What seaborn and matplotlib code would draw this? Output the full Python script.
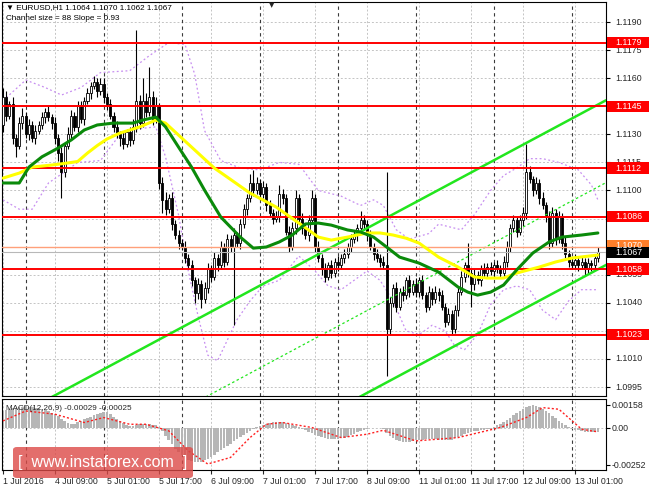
import numpy as np
import matplotlib
matplotlib.use("Agg")
import matplotlib.pyplot as plt
import seaborn as sns
from matplotlib.patches import Rectangle, FancyBboxPatch

sns.set_style("white")
plt.rcParams['font.family'] = ['Liberation Sans', 'DejaVu Sans']

# ---------------- data (prices in pips above 1.1000) ----------------
BASE = 1.1000
open0 = 135
closes = [150,140,146,128,124,136,140,130,135,128,132,135,139,142,139,136,
          128,120,110,124,130,140,134,145,138,148,152,156,158,153,157,150,
          146,140,134,130,128,125,131,127,134,148,136,148,142,150,138,145,
          104,95,90,96,82,76,72,70,64,60,52,45,50,42,48,58,
          54,64,60,70,62,74,70,76,72,82,90,96,104,100,104,98,
          102,92,88,85,86,98,96,78,70,80,96,85,80,76,84,96,
          70,64,58,54,60,56,62,60,64,66,70,74,76,80,84,82,
          76,70,66,64,62,60,26,40,48,38,46,44,52,46,50,46,
          52,44,38,46,42,46,44,38,30,34,26,36,46,54,60,56,
          50,55,52,58,56,59,57,60,58,56,62,70,80,84,78,84,
          88,110,106,100,104,96,92,86,72,88,74,86,72,66,62,60,
          63,60,62,58,61,60,64,67]
wick_up = [5,3,2,4,2,3,4,2,3,2,3,2,3,2,3,2,
           3,2,3,2,4,3,2,3,3,2,3,2,3,2,3,3,
           2,3,2,3,2,3,2,3,4,38,3,12,4,16,3,5,
           2,3,4,2,3,2,3,2,3,2,3,2,3,2,3,3,
           2,3,2,3,2,3,2,4,2,3,3,2,5,7,3,2,
           3,2,3,2,3,5,3,2,3,3,4,2,3,2,3,4,
           2,3,2,3,2,3,2,3,2,3,2,3,3,2,5,3,
           2,3,2,3,2,3,50,3,2,3,2,3,2,3,2,3,
           2,3,2,3,2,3,2,3,2,3,2,3,3,3,2,12,
           2,3,2,2,3,2,3,2,3,2,3,3,2,3,2,3,
           3,15,3,2,3,2,3,2,3,3,2,3,2,3,2,2,
           3,2,3,2,3,2,2,3]
wick_dn = [4,3,2,3,6,2,3,2,3,2,3,2,2,3,2,3,
           3,4,14,3,2,3,2,3,2,3,2,3,2,3,2,3,
           3,2,3,2,4,3,2,3,2,3,3,2,3,2,3,2,
           3,7,3,2,3,2,3,2,3,2,3,5,3,5,2,3,
           3,2,3,2,3,2,3,42,2,3,2,3,2,3,2,3,
           2,3,2,3,2,3,3,2,3,2,3,2,3,2,3,2,
           3,2,3,3,2,3,2,3,2,3,2,3,2,3,2,3,
           3,2,3,2,3,2,25,3,2,3,2,3,2,3,2,3,
           3,2,3,2,3,2,3,2,3,2,3,2,3,2,3,2,
           12,3,2,3,2,3,2,3,2,3,2,3,3,2,3,2,
           3,3,2,3,2,3,2,3,3,2,3,2,3,2,3,2,
           2,3,2,3,2,3,2,2]

green_t = [0,5,8,12,17,21,25,29,34,40,43,47,50,54,58,62,67,73,77,81,85,89,93,97,101,106,110,114,118,122,128,134,140,143,146,150,154,158,163,168,172,178,183]
green_p = [104,104,112.5,118,122.7,127,132.3,135,136,136,137.6,139.2,134,123.2,112.5,100.2,85.8,75.1,69.2,69.8,72.5,76.2,82.1,82.6,81.5,78.9,77.8,75.1,69.8,64.4,61.2,56.4,48.4,45.7,44.1,45.7,49.5,57.5,66.6,72.5,75.1,76.2,77.3]
yellow_t = [0,5,9,15,20,23,26,29,32,36,42,47,50,54,58,65,76,84,91,94,97,101,106,112,116,120,124,128,134,140,145,149,154,158,165,170,175,183]
yellow_p = [106.6,109.3,112.5,113.6,114.7,115.5,120,124,127.5,130.7,133.9,137.6,136,129.6,123.2,112,98.6,91.2,82.6,78.9,75.1,73.5,75.1,77.3,77.3,76.2,74.5,71.9,64.4,59.1,53.8,53.2,53.2,55.9,59.1,61.8,63.9,65.5]
band_up_t = [0,7,13,18,24,30,39,45,51,56,59,62,67,73,79,85,91,97,104,110,114,117,121,125,131,134,141,145,150,154,158,162,166,171,177,181,183]
band_up_p = [148,159,155,151,155,163,164,172,179,178,162,132,116,112,111,115,114,100,97,92,95,92,79,74,77,82,79,87,100,108,112,117,117,115,111,103,95]
band_dn_t = [0,5,9,14,19,23,30,36,42,47,50,54,57,60,63,66,69,72,76,80,85,91,96,100,104,108,112,116,120,124,128,132,136,139,142,146,150,154,158,162,166,170,174,178,183]
band_dn_p = [95,90,90,104,110,115,116,130,133,134,118,87,57,33,12,9,20,31,41,49,52,65,57,49,47,52,57,52,41,25,23,28,25,17,15,23,39,47,49,47,36,31,41,47,47]

levels = [1.1179, 1.1145, 1.1112, 1.1086, 1.1058, 1.1023]
ask_level = 1.1070
bid_level = 1.1067
channel_size = 88          # pips
channel_slope = 0.93       # pips per bar
channel_ref_t = 185.5
channel_ref_lower = 60.2   # pips at ref bar

macd_hist = [120,125,130,135,140,145,148,150,148,145,140,135,130,125,115,105,
             95,85,65,50,38,30,32,40,50,60,70,80,90,100,105,110,
             108,95,80,65,50,35,20,12,15,25,30,32,30,28,25,20,
             10,-20,-50,-80,-110,-140,-165,-185,-200,-215,-225,-230,-232,-228,-220,-210,
             -195,-180,-165,-150,-135,-120,-105,-90,-75,-60,-45,-30,-18,-5,5,15,
             25,32,38,42,45,45,42,38,32,25,15,5,-5,-15,-25,-35,
             -45,-55,-62,-68,-72,-75,-75,-73,-70,-65,-58,-48,-38,-28,-20,-12,
             -5,0,2,3,0,-8,-30,-50,-65,-78,-88,-93,-95,-92,-88,-84,
             -80,-78,-76,-75,-74,-76,-78,-80,-82,-82,-78,-70,-60,-50,-42,-35,
             -28,-22,-18,-14,-10,-6,-2,8,20,32,45,58,72,88,102,115,
             130,145,152,158,155,145,132,118,102,85,68,50,35,20,8,-2,
             -10,-15,-20,-24,-26,-28,-28,-29]
sig_t = [0,7,16,25,31,39,44,51,57,63,70,76,81,86,95,104,112,117,127,140,153,161,166,171,178,183]
sig_v = [50,118,96,39,73,27,27,-18,-155,-245,-200,-64,27,39,5,-64,-41,-14,-87,-64,5,73,141,130,-7,-25]

time_ticks = [0,16,32,48,64,80,96,112,128,144,160,176]
time_labels = ["1 Jul 2016","4 Jul 09:00","5 Jul 01:00","5 Jul 17:00","6 Jul 09:00",
               "7 Jul 01:00","7 Jul 17:00","8 Jul 09:00","11 Jul 01:00","11 Jul 17:00",
               "12 Jul 09:00","13 Jul 01:00"]
day_starts = [7,31,55,79,103,127,151,175]
price_ticks = [1.0995,1.1010,1.1025,1.1040,1.1055,1.1070,1.1085,1.1100,1.1115,1.1130,1.1145,1.1160,1.1175,1.1190]
macd_ticks = [0.00158, 0.0, -0.00252]
macd_tick_labels = ["0.00158", "0.00", "-0.00252"]

# ---------------- derived OHLC ----------------
n = len(closes)
t = np.arange(n)
c = BASE + np.array(closes) / 1e4
o = np.r_[BASE + open0 / 1e4, c[:-1]]
hi = np.maximum(o, c) + np.array(wick_up) / 1e4
lo = np.minimum(o, c) - np.array(wick_dn) / 1e4

W, H = 650, 488
FS = 6.3
fig = plt.figure(figsize=(6.5, 4.88), dpi=100)
fig.patch.set_facecolor("white")
ax = fig.add_axes([2/W, 92/H, 604/W, 394/H])
axm = fig.add_axes([2/W, 18/H, 604/W, 71/H], sharex=ax)
axr = fig.add_axes([606/W, 92/H, 44/W, 394/H], sharey=ax)
axmr = fig.add_axes([606/W, 18/H, 44/W, 71/H], sharey=axm)

XMIN, XMAX = -0.3, 185.5
ax.set_xlim(XMIN, XMAX)
ax.set_ylim(1.09902, 1.12007)
axm.set_ylim(-0.00286, 0.0020)

grid_col = "#c4c4c4"
sep_col = "#3a3a3a"
for a, ylist in ((ax, price_ticks), (axm, [0.0])):
    a.set_facecolor("white")
    for tt in time_ticks:
        a.axvline(tt, color=grid_col, lw=0.7, ls=(0, (2, 2)), zorder=0)
    for d in day_starts:
        a.axvline(d, color=sep_col, lw=0.8, ls=(0, (3, 3)), zorder=0.5)
    for yv in ylist:
        a.axhline(yv, color=grid_col, lw=0.7, ls=(0, (2, 2)), zorder=0)
    for s in a.spines.values():
        s.set_color("black"); s.set_linewidth(0.8)
    a.tick_params(left=False, labelleft=False, bottom=False, labelbottom=False)

# bands
band_style = dict(color="#c78ef0", lw=0.9, ls=(0, (1.5, 2)))
ax.plot(band_up_t, BASE + np.array(band_up_p)/1e4, zorder=1, **band_style)
ax.plot(band_dn_t, BASE + np.array(band_dn_p)/1e4, zorder=1, **band_style)

# channel
tc = np.array([XMIN, XMAX])
lower = BASE + (channel_ref_lower + channel_slope*(tc - channel_ref_t)) / 1e4
ax.plot(tc, lower, color="#22e61e", lw=1.8, zorder=4)
ax.plot(tc, lower + channel_size/1e4, color="#22e61e", lw=1.8, zorder=4)
ax.plot(tc, lower + channel_size/2/1e4, color="#22e61e", lw=0.9, ls=(0, (2, 2)), zorder=4)

# horizontal levels
for lv in levels:
    ax.axhline(lv, color="#ff0000", lw=1.4, zorder=4)
ax.axhline(ask_level, color="#ffa07a", lw=1.0, zorder=4)
ax.axhline(bid_level, color="#b8b8b8", lw=0.8, zorder=4)

# candles
ax.vlines(t, lo, hi, color="black", lw=0.8, zorder=3)
bull = c >= o
body_h = np.maximum(np.abs(c - o), 0.00003)
body_b = np.minimum(o, c)
ax.bar(t[bull], body_h[bull], bottom=body_b[bull], width=0.62, color="white",
       edgecolor="black", lw=0.6, zorder=3)
ax.bar(t[~bull], body_h[~bull], bottom=body_b[~bull], width=0.62, color="black",
       edgecolor="black", lw=0.6, zorder=3)

# moving averages (seaborn)
sns.lineplot(x=yellow_t, y=BASE + np.array(yellow_p)/1e4, ax=ax, color="#ffff00", lw=2.2, zorder=5)
sns.lineplot(x=green_t, y=BASE + np.array(green_p)/1e4, ax=ax, color="#0a8a0a", lw=2.2, zorder=5)
ax.set_xlabel(""); ax.set_ylabel("")

# headers
ax.text(0.006, 0.985, "\u25bc EURUSD,H1 1.1064 1.1070 1.1062 1.1067", transform=ax.transAxes,
        fontsize=5.9, va="center", ha="left", color="black")
ax.text(0.006, 0.957, "Channel size = 88 Slope = 0.93", transform=ax.transAxes,
        fontsize=5.9, va="center", ha="left", color="black")
fig.text(272/W, 1 - 5/H, "\u25bc", fontsize=5, ha="center", va="center", family="DejaVu Sans")

# MACD
hist = np.array(macd_hist) / 1e5
axm.bar(t, hist, width=0.78, color="#b6b6b6", lw=0, zorder=2)
axm.plot(sig_t, np.array(sig_v)/1e5, color="#ff2020", lw=1.0, ls=(0, (1.5, 1.5)), zorder=3)
axm.text(0.006, 0.86, "MACD(12,26,9) -0.00029 -0.00025", transform=axm.transAxes,
         fontsize=5.9, va="center", ha="left")
axm.set_xticks(time_ticks)
axm.set_xticklabels(time_labels)
axm.tick_params(bottom=True, labelbottom=True, direction="out", length=3, width=0.8,
                labelsize=FS, pad=2)
for lbl in axm.get_xticklabels():
    lbl.set_ha("left")

# right price axis
for a in (axr, axmr):
    a.set_xlim(0, 1)
    a.axis("off")
box_h = 0.00060
hidden = levels + [ask_level, bid_level]
axr.hlines(price_ticks, 0, 0.09, color="black", lw=0.8)
for p in price_ticks:
    if min(abs(p - h) for h in hidden) < 0.00025:
        continue
    axr.text(0.2, p, f"{p:.4f}", fontsize=FS, va="center", ha="left")

def label_box(level, face, text):
    axr.add_patch(Rectangle((0.02, level - box_h/2), 0.96, box_h, facecolor=face,
                            edgecolor="none", zorder=5))
    axr.text(0.2, level, text, fontsize=FS, va="center", ha="left", color="white", zorder=6)
for lv in levels:
    label_box(lv, "#ff0000", f"{lv:.4f}")
label_box(ask_level + 0.00005, "#ff7f2a", f"{ask_level:.4f}")
label_box(bid_level - 0.00002, "#000000", f"{bid_level:.4f}")

axmr.hlines(macd_ticks, 0, 0.09, color="black", lw=0.8)
for v, s in zip(macd_ticks, macd_tick_labels):
    axmr.text(0.12, v, s, fontsize=FS, va="center", ha="left")

# watermark
wm = FancyBboxPatch((13/W, 10/H), 180/W, 31/H, boxstyle="round,pad=0,rounding_size=0.006",
                    transform=fig.transFigure, facecolor="#dc4a47", alpha=0.8,
                    edgecolor="none", zorder=10)
fig.patches.append(wm)
fig.text(103/W, 25/H, "[  www.instaforex.com  ]", fontsize=11.5, color="white",
         ha="center", va="center", zorder=11)

fig.savefig("out.png", dpi=100, facecolor="white")
